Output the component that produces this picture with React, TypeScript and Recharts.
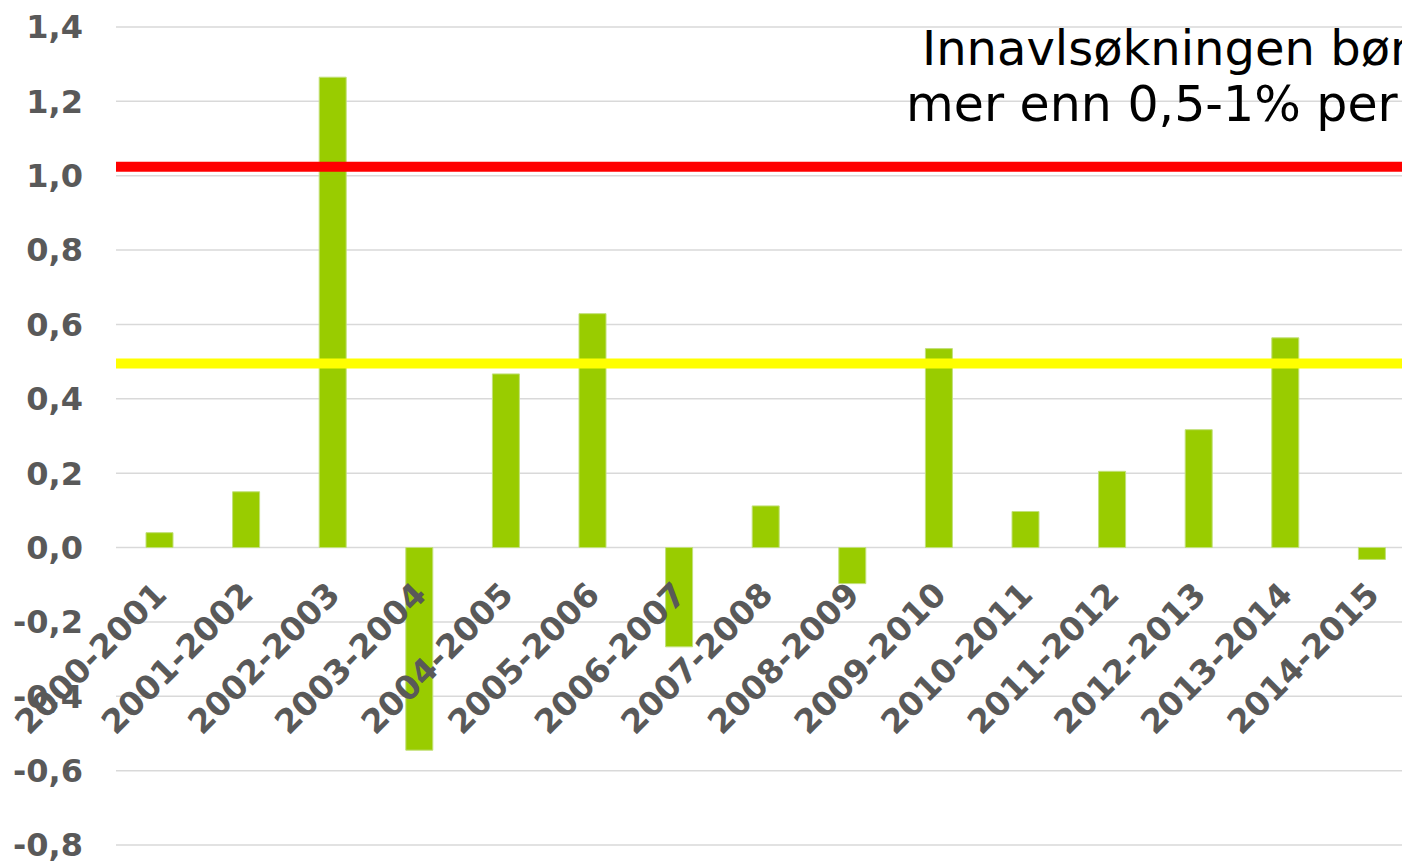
import { BarChart, Bar, XAxis, YAxis, CartesianGrid, ReferenceLine, LabelList } from 'recharts'

// inbreeding increase per period (%)
const periods = [
  '2000-2001', '2001-2002', '2002-2003', '2003-2004', '2004-2005',
  '2005-2006', '2006-2007', '2007-2008', '2008-2009', '2009-2010',
  '2010-2011', '2011-2012', '2012-2013', '2013-2014', '2014-2015',
]
const increase = [0.04, 0.15, 1.265, -0.545, 0.467, 0.629, -0.267, 0.112, -0.097, 0.535, 0.097, 0.205, 0.317, 0.564, -0.032]
const yTicks = [-0.8, -0.6, -0.4, -0.2, 0, 0.2, 0.4, 0.6, 0.8, 1.0, 1.2, 1.4]
const upperLimit = 1.024
const lowerLimit = 0.495
const noteLines = ['Innavlsøkningen bør', 'mer enn 0,5-1% per']

const data = periods.map((period, i) => ({ period, value: increase[i] }))

const fmt = (v: number) => v.toFixed(1).replace('.', ',')

// category label drawn at the zero line, rotated like the original
const PeriodLabel = (props: any) => {
  const { x, y, width, height, value, index } = props
  const v = increase[index]
  const top = Math.min(y, y + height)
  const bottom = Math.max(y, y + height)
  const zeroY = v >= 0 ? bottom : top
  const cx = x + width / 2
  const ax = cx + 9
  const ay = zeroY + 49
  return (
    <text
      x={ax}
      y={ay}
      transform={`rotate(-45 ${ax} ${ay})`}
      textAnchor="end"
      fill="#595959"
      fontSize={33}
      fontWeight="bold"
      fontFamily="DejaVu Sans, Verdana, sans-serif"
    >
      {value}
    </text>
  )
}

export default function App() {
  return (
    <div style={{ position: 'absolute', left: 0, top: 0, width: 1402, height: 861, overflow: 'hidden', background: '#fff' }}>
      <BarChart
        width={1416}
        height={861}
        data={data}
        margin={{ top: 27, right: 1, bottom: 16, left: 0 }}
        barSize={27}
      >
        <CartesianGrid vertical={false} stroke="#d9d9d9" strokeWidth={1.5} />
        <XAxis dataKey="period" hide />
        <YAxis
          width={116}
          domain={[-0.8, 1.4]}
          ticks={yTicks}
          tickFormatter={fmt}
          axisLine={false}
          tickLine={false}
          tickSize={0}
          tickMargin={33}
          interval={0}
          tick={{ fill: '#595959', fontSize: 32, fontWeight: 'bold', fontFamily: 'DejaVu Sans, Verdana, sans-serif' }}
        />
        <Bar dataKey="value" fill="#99cc00" stroke="#c2e07a" strokeWidth={1} isAnimationActive={false}>
          <LabelList dataKey="period" content={PeriodLabel} />
        </Bar>
        <ReferenceLine y={upperLimit} stroke="#ff0000" strokeWidth={10} />
        <ReferenceLine y={lowerLimit} stroke="#ffff00" strokeWidth={10} />
      </BarChart>
      <svg width={1402} height={861} style={{ position: 'absolute', left: 0, top: 0, pointerEvents: 'none' }}>
        <text x={922} y={65} fontSize={48} fill="#000" fontFamily="DejaVu Sans, Verdana, sans-serif">
          {noteLines[0]}
        </text>
        <text x={906} y={121} fontSize={49} fill="#000" fontFamily="DejaVu Sans, Verdana, sans-serif">
          {noteLines[1]}
        </text>
      </svg>
    </div>
  )
}
